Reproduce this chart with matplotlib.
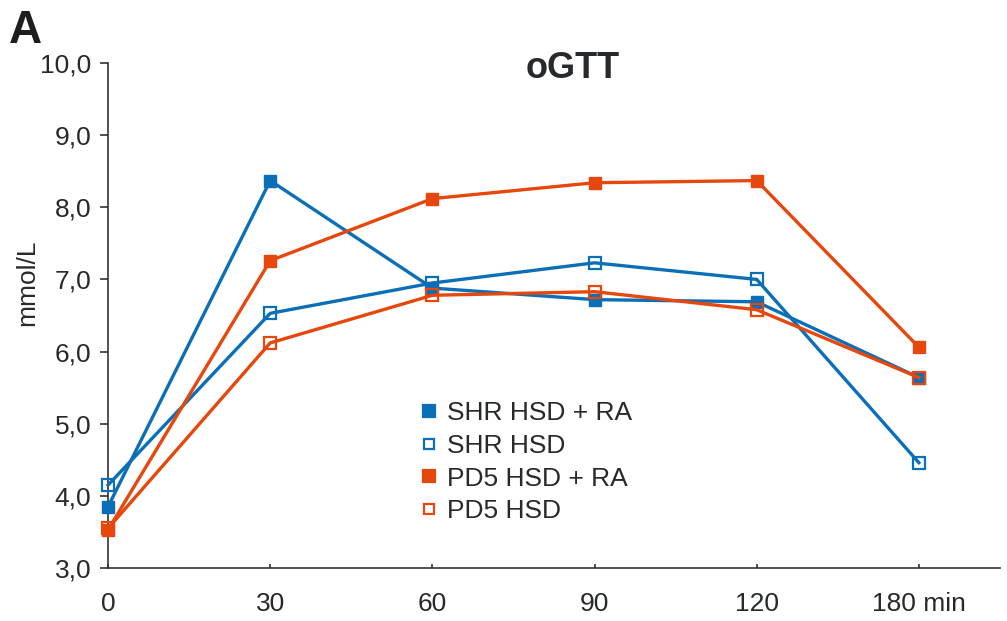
import matplotlib
matplotlib.use("Agg")
import matplotlib.pyplot as plt
from matplotlib.lines import Line2D

# Time points (min) and glucose values (mmol/L)
time_labels = ["0", "30", "60", "90", "120", "180 min"]
shr_hsd_ra = [3.85, 8.37, 6.88, 6.72, 6.69, 5.64]
shr_hsd = [4.15, 6.53, 6.95, 7.23, 7.00, 4.46]
pd5_hsd_ra = [3.53, 7.26, 8.12, 8.34, 8.37, 6.06]
pd5_hsd = [3.55, 6.12, 6.78, 6.83, 6.58, 5.64]

y_ticks = [3, 4, 5, 6, 7, 8, 9, 10]

BLUE = "#0b6fb7"
ORANGE = "#e6470c"
TEXT = "#262a2d"

plt.rcParams["font.family"] = ["Liberation Sans", "DejaVu Sans"]

fig = plt.figure(figsize=(10.07, 6.21), dpi=100)
ax = fig.add_axes([0.1073, 0.0853, 0.8857, 0.8133])

x = list(range(len(time_labels)))

series = [
    (shr_hsd_ra, BLUE, True, "SHR HSD + RA"),
    (shr_hsd, BLUE, False, "SHR HSD"),
    (pd5_hsd_ra, ORANGE, True, "PD5 HSD + RA"),
    (pd5_hsd, ORANGE, False, "PD5 HSD"),
]

for vals, col, filled, lab in series:
    if filled:
        ax.plot(x, vals, color=col, lw=2.4, marker="s", ms=9,
                mfc=col, mec=col, clip_on=False, zorder=3)
    else:
        ax.plot(x, vals, color=col, lw=2.4, marker="s", ms=8,
                mfc="none", mec=col, mew=1.6, clip_on=False, zorder=3)

ax.set_xlim(0, 5.5)
ax.set_ylim(3, 10)
ax.set_yticks(y_ticks)
ax.set_yticklabels([f"{v:.1f}".replace(".", ",") for v in y_ticks])
ax.set_xticks(x)
ax.set_xticklabels(time_labels)
ax.set_xticks([0], minor=True)

for s in ["top", "right"]:
    ax.spines[s].set_visible(False)
for s in ["left", "bottom"]:
    ax.spines[s].set_color("#333333")
    ax.spines[s].set_linewidth(1.2)

ax.tick_params(axis="y", direction="out", length=6, width=1.2,
               colors="#333333", labelcolor=TEXT, labelsize=19, pad=6)
ax.tick_params(axis="x", which="major", direction="in", length=3, width=1.2,
               colors="#333333", labelcolor=TEXT, labelsize=19, pad=17)
ax.tick_params(axis="x", which="minor", direction="out", length=6, width=1.2,
               colors="#333333")

ax.set_ylabel("mmol/L", fontsize=19, color=TEXT)
ax.yaxis.set_label_coords(-0.077, 0.565)

ax.text(0.521, 0.99, "oGTT", transform=ax.transAxes, fontsize=26,
        fontweight="bold", color=TEXT, ha="center", va="center")
fig.text(0.009, 0.985, "A", fontsize=33, fontweight="bold", color="#1e1e1e",
         va="top", ha="left")

handles = []
for vals, col, filled, lab in series:
    handles.append(Line2D([], [], ls="none", marker="s", ms=8 if filled else 7,
                          mfc=col if filled else "none", mec=col,
                          mew=1.6, label=lab))
leg = ax.legend(handles=handles, loc="upper left",
                bbox_to_anchor=(0.405, 1 - 388 / 621, 0.0, 0.0),
                bbox_transform=fig.transFigure,
                frameon=False, fontsize=19, handlelength=0.6,
                handletextpad=0.4, labelspacing=0.33, borderpad=0)
for t in leg.get_texts():
    t.set_color(TEXT)

fig.savefig("out.png", dpi=100)
